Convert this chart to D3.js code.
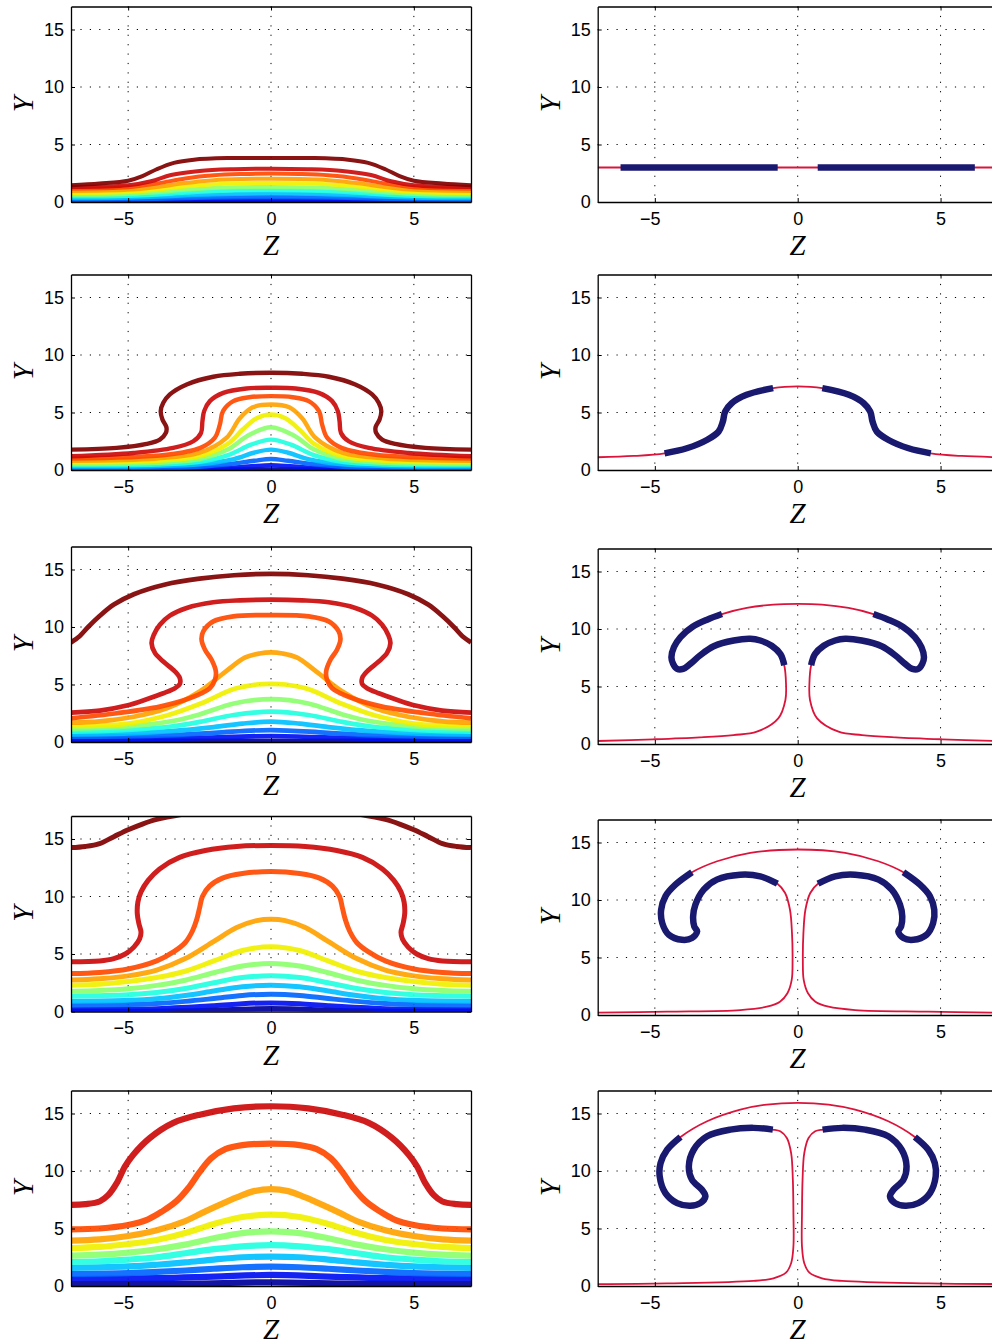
<!DOCTYPE html>
<html>
<head>
<meta charset="utf-8">
<script src="https://cdn.jsdelivr.net/npm/d3@7"></script>
<style>
  body { margin: 0; background: #fff; }
  svg { display: block; }
  .tick text { font-family: "Liberation Sans", Arial, sans-serif; font-size: 18px; fill: #000; }
  .lbl { font-family: "Liberation Serif", "DejaVu Serif", serif; font-style: italic; font-size: 29px; }
</style>
</head>
<body>
<svg id="chart" width="992" height="1344"></svg>
<script>
// axes
var zTicks = [-5, 0, 5];
var yTicks = [0, 5, 10, 15];
var zDomain = [-7, 7];
var yDomain = [0, 17];

// contour levels, top (dark red) to bottom (navy)
var levelColors = ["#800000", "#cc0a0a", "#ff4a00", "#ffa300", "#f0f000", "#8cff6e",
                   "#22ffe0", "#00c0ff", "#0066ff", "#0010f0", "#00009a"];

// left column: half contours from z=-7 to z=0 (symmetric), one per level
var contours1 = [
  [[-7,1.45],[-6,1.6],[-5,1.85],[-4.5,2.25],[-4,2.85],[-3.4,3.4],[-2.7,3.68],[-1.5,3.82],[0,3.83]],
  [[-7,1.3],[-5,1.45],[-4.2,1.8],[-3.5,2.35],[-2.5,2.7],[-1.3,2.85],[0,2.9]],
  [[-7,1.16],[-5,1.28],[-4,1.6],[-3,2.05],[-2,2.32],[-1,2.43],[0,2.47]],
  [[-7,0.96],[-5,1.06],[-4,1.3],[-3,1.65],[-2,1.9],[-1,2.0],[0,2.03]],
  [[-7,0.79],[-5,0.88],[-4,1.07],[-3,1.35],[-2,1.55],[-1,1.64],[0,1.66]],
  [[-7,0.62],[-5,0.7],[-4,0.85],[-3,1.07],[-2,1.22],[0,1.31]],
  [[-7,0.47],[-5,0.53],[-4,0.64],[-3,0.8],[-2,0.93],[0,1.02]],
  [[-7,0.33],[-5,0.37],[-4,0.45],[-3,0.57],[-2,0.66],[0,0.73]],
  [[-7,0.19],[-4,0.26],[-3,0.33],[-2,0.4],[0,0.44]],
  [[-7,0.06],[-3,0.1],[0,0.2]],
  [[-7,0.01],[0,0.03]]
];
var contours2 = [
  [[-7,1.77],[-5.4,1.92],[-4.35,2.27],[-3.89,2.64],[-3.68,3.22],[-3.66,3.72],[-3.8,4.39],[-3.86,5.12],[-3.77,5.84],[-3.54,6.57],[-2.95,7.44],[-2.02,8.11],[-1.09,8.37],[0,8.46]],
  [[-7,1.19],[-4.82,1.48],[-3.42,1.92],[-2.72,2.5],[-2.45,3.22],[-2.4,4.24],[-2.34,5.12],[-2.14,5.99],[-1.67,6.71],[-0.86,7.09],[0,7.15]],
  [[-7,0.99],[-3.65,1.33],[-2.49,1.9],[-1.97,2.79],[-1.79,3.95],[-1.68,5.12],[-1.32,5.99],[-0.76,6.33],[0,6.42]],
  [[-7,0.81],[-4,1.0],[-2.5,1.5],[-1.56,2.79],[-1.09,4.5],[-0.64,5.45],[0,5.69]],
  [[-7,0.66],[-4,0.8],[-2.5,1.2],[-1.5,2.3],[-1,3.5],[-0.5,4.5],[0,4.82]],
  [[-7,0.52],[-4,0.62],[-2.5,0.95],[-1.5,1.8],[-0.8,3.0],[0,3.72]],
  [[-7,0.41],[-4,0.48],[-2.5,0.72],[-1.5,1.3],[-0.7,2.2],[0,2.64]],
  [[-7,0.29],[-4,0.34],[-2.5,0.5],[-1.3,0.95],[-0.6,1.5],[0,1.77]],
  [[-7,0.17],[-3,0.22],[-1.5,0.5],[-0.6,0.8],[0,0.96]],
  [[-7,0.08],[-2,0.15],[-0.8,0.3],[0,0.41]],
  [[-7,0.02],[0,0.05]]
];
var contours3 = [
  [[-7,8.66],[-6.7,9.2],[-6.4,10.0],[-6.0,10.95],[-5.5,11.95],[-4.8,12.85],[-3.7,13.7],[-2.5,14.2],[-1.3,14.5],[0,14.62]],
  [[-7,2.56],[-5.99,2.73],[-5.05,3.17],[-4.35,3.72],[-3.77,4.24],[-3.36,4.68],[-3.19,5.05],[-3.19,5.55],[-3.36,6.13],[-3.77,7.0],[-4.06,7.73],[-4.18,8.6],[-4.1,9.33],[-3.89,10.2],[-3.54,10.99],[-2.95,11.66],[-2.02,12.15],[-1.09,12.32],[0,12.38]],
  [[-7,2.06],[-5.4,2.5],[-3.89,3.08],[-2.85,3.8],[-2.14,4.68],[-1.96,5.41],[-1.93,6.13],[-2.08,7.15],[-2.31,8.02],[-2.43,8.9],[-2.37,9.62],[-2.02,10.49],[-1.32,10.93],[0,11.04]],
  [[-7,1.68],[-6,1.8],[-4.8,2.2],[-3.65,2.93],[-2.5,4.4],[-1.6,6.1],[-0.9,7.35],[-0.4,7.7],[0,7.79]],
  [[-7,1.39],[-5,1.6],[-3.65,2.3],[-2.5,3.3],[-1.3,4.6],[-0.5,5.0],[0,5.06]],
  [[-7,1.16],[-5,1.35],[-3.5,1.8],[-2.5,2.4],[-1.3,3.35],[0,3.72]],
  [[-7,0.9],[-5,1.05],[-3.5,1.35],[-2.5,1.75],[-1.3,2.35],[0,2.64]],
  [[-7,0.67],[-5,0.75],[-3.5,0.95],[-2,1.3],[-1,1.6],[0,1.77]],
  [[-7,0.46],[-4,0.55],[-2,0.8],[0,1.04]],
  [[-7,0.26],[-3,0.32],[0,0.52]],
  [[-7,0.08],[0,0.1]]
];
var contours4 = [
  [[-7,14.25],[-6.5,14.35],[-6,14.6],[-5.5,15.2],[-5,15.8],[-4.5,16.3],[-4,16.7],[-3,17.2],[-2,17.6],[-1,17.8],[0,17.9]],
  [[-7,4.33],[-6,4.4],[-5.5,4.6],[-5.1,5.0],[-4.8,5.6],[-4.6,6.3],[-4.55,6.9],[-4.62,7.6],[-4.68,8.5],[-4.66,9.5],[-4.55,10.4],[-4.3,11.4],[-3.9,12.4],[-3.2,13.4],[-2.3,14.0],[-1.2,14.35],[0,14.44]],
  [[-7,3.3],[-6,3.4],[-5,3.7],[-4,4.4],[-3.4,5.2],[-3,6.0],[-2.75,7.0],[-2.6,8.0],[-2.5,9.0],[-2.4,10.0],[-2.15,10.9],[-1.7,11.6],[-1,12.0],[0,12.17]],
  [[-7,2.73],[-6,2.85],[-5,3.1],[-4,3.6],[-3,4.6],[-2,6.1],[-1.2,7.3],[-0.5,7.9],[0,8.02]],
  [[-7,2.29],[-6,2.38],[-5,2.6],[-4,2.95],[-3,3.5],[-2,4.4],[-1,5.3],[0,5.63]],
  [[-7,1.75],[-6,1.82],[-5,1.97],[-4,2.27],[-3,2.72],[-2,3.37],[-1,3.95],[0,4.18]],
  [[-7,1.33],[-5,1.45],[-4,1.65],[-3,2.0],[-2,2.5],[-1,2.95],[0,3.1]],
  [[-7,0.9],[-5,0.98],[-4,1.12],[-3,1.4],[-2,1.78],[-1,2.15],[0,2.29]],
  [[-7,0.55],[-5,0.6],[-4,0.7],[-3,0.88],[-2,1.13],[-1,1.4],[0,1.5]],
  [[-7,0.17],[-4,0.25],[-2,0.5],[-1,0.68],[0,0.75]],
  [[-7,0.02],[-3,0.06],[0,0.26]]
];
var contours5 = [
  null,
  [[-7,7.06],[-6.5,7.12],[-6,7.35],[-5.7,7.9],[-5.4,8.95],[-5.11,10.4],[-4.82,11.42],[-4.24,12.87],[-3.42,14.18],[-2.49,14.9],[-1.3,15.45],[0,15.63]],
  [[-7,4.92],[-6,5.0],[-5,5.3],[-4.3,5.8],[-3.8,6.5],[-3.3,7.4],[-2.9,8.5],[-2.5,9.9],[-2.1,11.1],[-1.6,11.9],[-1,12.25],[0,12.38]],
  [[-7,3.95],[-6,4.05],[-5,4.35],[-4,4.85],[-3,5.65],[-2.37,6.4],[-1.8,7.05],[-1.2,7.7],[-0.6,8.25],[0,8.43]],
  [[-7,3.3],[-6,3.4],[-5,3.65],[-4,4.0],[-3,4.6],[-2,5.4],[-1,6.0],[0,6.2]],
  [[-7,2.64],[-6,2.72],[-5,2.9],[-4,3.2],[-3,3.6],[-2,4.15],[-1,4.6],[0,4.75]],
  [[-7,2.09],[-6,2.15],[-5,2.3],[-4,2.5],[-3,2.85],[-2,3.2],[-1,3.45],[0,3.55]],
  [[-7,1.57],[-5,1.7],[-4,1.85],[-3,2.05],[-2,2.3],[-1,2.5],[0,2.56]],
  [[-7,1.05],[-5,1.12],[-4,1.22],[-3,1.35],[-2,1.5],[-1,1.63],[0,1.68]],
  [[-7,0.61],[-4,0.68],[-2,0.82],[0,0.96]],
  [[-7,0.17],[-3,0.2],[0,0.32]]
];

// right column: interface, half curve from z=-7 to top centre, and thick (navy) index ranges
var iface1 = [[-7,3.0],[-6.2,3.0],[-0.7,3.0],[0,3.0]];
var navy1 = [[1,2]];
var iface2 = [[-7,1.11],[-5.74,1.22],[-4.66,1.45],[-3.88,1.89],[-3.18,2.61],[-2.77,3.34],[-2.62,4.21],[-2.54,5.08],[-2.31,5.81],[-1.79,6.54],[-0.86,7.12],[0,7.27]];
var navy2 = [[2,10]];
var iface3 = [[-7,0.26],[-5.05,0.41],[-3.43,0.58],[-2.25,0.78],[-1.43,1.07],[-0.68,2.23],[-0.43,3.83],[-0.41,5.29],
  [-0.47,6.85],[-0.6,7.8],[-0.91,8.54],[-1.31,9.0],[-1.66,9.15],[-2.24,9.0],[-2.94,8.5],[-3.41,7.72],[-3.76,6.97],
  [-4.01,6.53],[-4.22,6.53],[-4.36,6.97],[-4.42,7.55],[-4.33,8.43],[-4.1,9.3],[-3.69,10.17],[-3.17,10.81],[-2.65,11.3],
  [-1.78,11.83],[-0.85,12.12],[0,12.18]];
var navy3 = [[8,25]];
var iface4 = [[-7,0.2],[-4.57,0.29],[-2.01,0.43],[-1.08,0.72],[-0.62,1.16],[-0.36,1.89],[-0.21,3.05],[-0.18,4.79],
  [-0.2,7.12],[-0.27,9.15],[-0.44,10.61],[-0.71,11.42],[-1.31,12.06],[-2.01,12.2],[-2.83,11.77],[-3.29,10.9],
  [-3.58,9.59],[-3.66,8.58],[-3.62,7.7],[-3.52,7.27],[-3.7,6.69],[-4.05,6.54],[-4.51,6.98],[-4.74,7.99],[-4.78,9.15],
  [-4.63,10.32],[-4.28,11.33],[-3.7,12.41],[-2.82,13.37],[-1.66,14.1],[0,14.39]];
var navy4 = [[11,27]];
var iface5 = [[-7,0.17],[-4.57,0.23],[-1.55,0.44],[-0.85,0.67],[-0.41,1.16],[-0.23,1.98],[-0.15,3.43],[-0.15,6.33],
  [-0.17,9.24],[-0.23,11.56],[-0.38,12.87],[-0.61,13.45],[-0.87,13.6],[-1.55,13.75],[-2.36,13.6],[-3.17,13.02],
  [-3.64,11.85],[-3.81,10.4],[-3.7,9.24],[-3.35,8.37],[-3.23,7.79],[-3.41,7.21],[-3.76,6.98],[-4.22,7.21],[-4.63,8.08],
  [-4.83,9.53],[-4.8,10.69],[-4.57,11.85],[-4.1,12.96],[-3.17,14.33],[-2.01,15.34],[-1.08,15.78],[0,15.93]];
var navy5 = [[12,28]];

var leftPanels = [contours1, contours2, contours3, contours4, contours5];
var rightPanels = [[iface1, navy1], [iface2, navy2], [iface3, navy3], [iface4, navy4], [iface5, navy5]];

// layout
var plotW = 400, plotH = 195.5;
var leftX0 = 71, rightX0 = 597.7;
var leftBottoms = [202, 470, 742, 1011.5, 1286];
var rightBottoms = [202, 470, 744, 1015, 1286];
var contourWidths = [4, 4.4, 4.7, 5, 6.2];

var svg = d3.select("#chart");
svg.append("rect").attr("width", 992).attr("height", 1344).attr("fill", "#fff");

var x = d3.scaleLinear().domain(zDomain).range([0, plotW]);
var y = d3.scaleLinear().domain(yDomain).range([plotH, 0]);

var line = d3.line()
    .x(function (d) { return x(d[0]); })
    .y(function (d) { return y(d[1]); })
    .curve(d3.curveCatmullRom.alpha(0.5));

// half curve -> full symmetric curve
function mirror(half) {
    var other = half.slice().reverse().map(function (p) { return [-p[0], p[1]]; });
    return half.concat(other.slice(1));
}

function fmt(d) { return d < 0 ? "\u2212" + Math.abs(d) : String(d); }

function panel(x0, bottom, id) {
    var g = svg.append("g").attr("transform", "translate(" + x0 + "," + (bottom - plotH) + ")");

    g.append("clipPath").attr("id", id)
      .append("rect").attr("width", plotW).attr("height", plotH);

    // dotted grid
    g.selectAll(".vgrid").data(zTicks).join("line")
        .attr("x1", function (d) { return x(d); }).attr("x2", function (d) { return x(d); })
        .attr("y1", 0).attr("y2", plotH)
        .attr("stroke", "#000").attr("stroke-width", 1).attr("stroke-dasharray", "1.2,8.2");
    g.selectAll(".hgrid").data(yTicks.filter(function (d) { return d > 0; })).join("line")
        .attr("y1", function (d) { return y(d); }).attr("y2", function (d) { return y(d); })
        .attr("x1", 0).attr("x2", plotW)
        .attr("stroke", "#000").attr("stroke-width", 1).attr("stroke-dasharray", "1.2,8.2");

    var layer = g.append("g").attr("clip-path", "url(#" + id + ")");
    return { g: g, layer: layer };
}

function axes(g) {
    var b = g.append("g").attr("transform", "translate(0," + plotH + ")")
        .call(d3.axisBottom(x).tickValues(zTicks).tickSizeInner(-4).tickSizeOuter(0).tickPadding(10).tickFormat(fmt));
    b.selectAll(".tick text").attr("dx", function (d) { return d < 0 ? -5 : 0; });
    g.append("g")
        .call(d3.axisLeft(y).tickValues(yTicks).tickSizeInner(-4).tickSizeOuter(0).tickPadding(7));
    g.append("g")
        .call(d3.axisTop(x).tickValues(zTicks).tickSizeInner(-4).tickSizeOuter(0).tickFormat(""));
    g.append("g").attr("transform", "translate(" + plotW + ",0)")
        .call(d3.axisRight(y).tickValues(yTicks).tickSizeInner(-4).tickSizeOuter(0).tickFormat(""));
    g.selectAll(".domain").attr("stroke-width", 1.3);

    g.append("text").attr("class", "lbl")
        .attr("transform", "translate(-38," + (plotH / 2) + ") rotate(-90)")
        .attr("text-anchor", "middle")
        .text("Y");
    g.append("text").attr("class", "lbl")
        .attr("x", x(0)).attr("y", plotH + 53)
        .attr("text-anchor", "middle")
        .text("Z");
}

// left column: contour lines
leftPanels.forEach(function (levels, r) {
    var p = panel(leftX0, leftBottoms[r], "clipL" + r);
    var data = levels.map(function (c, i) { return { c: c, i: i }; })
        .filter(function (d) { return d.c; })
        .reverse();
    p.layer.selectAll("path.level").data(data).join("path")
        .attr("class", "level")
        .attr("d", function (d) { return line(mirror(d.c)); })
        .attr("fill", "none")
        .attr("stroke", function (d) { return levelColors[d.i]; })
        .attr("stroke-width", contourWidths[r])
        .attr("stroke-opacity", 0.92)
        .attr("stroke-linejoin", "round");
    axes(p.g);
});

// right column: interface with thick segments
rightPanels.forEach(function (rp, r) {
    var half = rp[0], ranges = rp[1];
    var p = panel(rightX0, rightBottoms[r], "clipR" + r);
    p.layer.append("path")
        .attr("d", line(mirror(half)))
        .attr("fill", "none")
        .attr("stroke", "#dc143c")
        .attr("stroke-width", 1.8);
    var segs = [];
    ranges.forEach(function (rg) {
        var s = half.slice(rg[0], rg[1] + 1);
        segs.push(s);
        segs.push(s.map(function (q) { return [-q[0], q[1]]; }));
    });
    p.layer.selectAll("path.thick").data(segs).join("path")
        .attr("class", "thick")
        .attr("d", line)
        .attr("fill", "none")
        .attr("stroke", "#191970")
        .attr("stroke-width", 6.5)
        .attr("stroke-linejoin", "round");
    axes(p.g);
});
</script>
</body>
</html>
